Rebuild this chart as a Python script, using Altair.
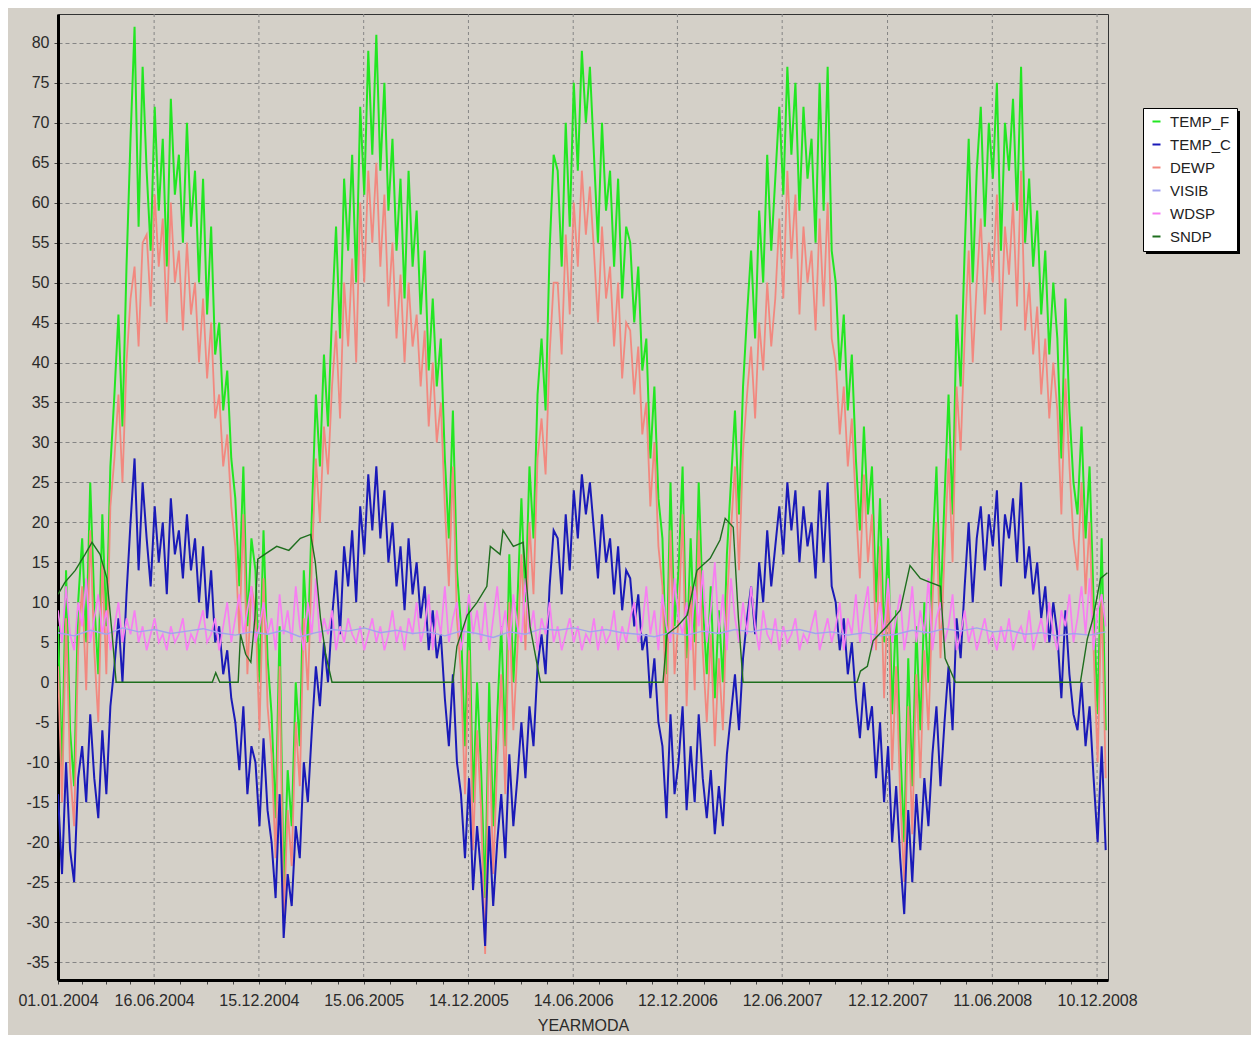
import altair as alt
import pandas as pd

# ---------------- data ----------------
series_names = ["TEMP_F", "TEMP_C", "DEWP", "VISIB", "WDSP", "SNDP"]
series_colors = ["#22e622", "#1a1ab8", "#f2887f", "#a3a3ee", "#f77ef2", "#1e6e1e"]
series_widths = [2.0, 2.0, 1.8, 1.4, 1.7, 1.4]
draw_order = ["TEMP_F", "DEWP", "TEMP_C", "WDSP", "VISIB", "SNDP"]

week_start = "2004-01-01"   # weekly samples
visib_start = "2004-01-01"  # 4-weekly samples

temp_c = [
    # 2004
    -14, -24, -10, -21, -25, -12, -8, -15, -4, -12, -17, -6, -14, -3, 2, 8, 0, 11,
    20, 28, 14, 25, 18, 12, 22, 15, 20, 11, 23, 16, 19, 13, 21, 14, 18, 10, 17, 8,
    14, 5, 7, 1, 4, -2, -5, -11, -3, -14, -8, -10, -18, -7, -16,
    # 2005
    -20, -27, -14, -32, -24, -28, -18, -22, -10, -15, -6, 2, -3, 5, 0, 8, 14, 6, 17,
    12, 19, 10, 22, 16, 26, 19, 27, 18, 24, 15, 20, 12, 17, 9, 18, 11, 15, 8, 12, 4,
    9, 3, 6, -2, -8, 1, -10, -14, -22, -12, -26, -18,
    # 2006
    -24, -33, -18, -28, -20, -14, -22, -9, -18, -12, -5, -12, -3, -8, 2, 6, 1, 12,
    19, 18, 11, 21, 14, 24, 18, 26, 21, 25, 19, 13, 21, 15, 18, 11, 17, 9, 14, 13, 7,
    11, 4, 6, -2, 3, -5, -8, -17, -4, -14, -10, -3, -16,
    # 2007
    -8, -15, -4, -12, -17, -11, -19, -13, -18, -9, -4, 1, -6, 3, 8, 12, 6, 15, 10,
    19, 12, 17, 22, 16, 25, 19, 24, 15, 22, 17, 20, 13, 24, 15, 25, 12, 10, 4, 8, 1,
    5, -2, -7, 0, -6, -3, -12, -5, -15, -8, -20, -13,
    # 2008
    -22, -29, -16, -25, -14, -21, -12, -18, -9, -3, -13, -5, 2, -6, 8, 3, 12, 20, 10,
    18, 22, 14, 21, 17, 24, 12, 21, 18, 23, 15, 25, 13, 17, 11, 15, 8, 12, 5, 10, 6,
    -2, 9, 1, -4, -6, 0, -8, -3, -12, -20, -8, -21,
]

temp_f = [
    # 2004
    7, -11, 14, -6, -13, 10, 18, 5, 25, 10, 1, 21, 7, 27, 36, 46, 32, 52, 68, 82, 57,
    77, 64, 54, 72, 59, 68, 52, 73, 61, 66, 55, 70, 57, 64, 50, 63, 46, 57, 41, 45,
    34, 39, 28, 23, 12, 27, 7, 18, 14, 0, 19, 3,
    # 2005
    -4, -17, 7, -26, -11, -18, 0, -8, 14, 5, 21, 36, 27, 41, 32, 46, 57, 43, 63, 54,
    66, 50, 72, 61, 79, 66, 81, 64, 75, 59, 68, 54, 63, 48, 64, 52, 59, 46, 54, 39,
    48, 37, 43, 28, 18, 34, 14, 7, -8, 10, -15, 0,
    # 2006
    -11, -27, 0, -18, -4, 7, -8, 16, 0, 10, 23, 10, 27, 18, 36, 43, 34, 54, 66, 64,
    52, 70, 57, 75, 64, 79, 70, 77, 66, 55, 70, 59, 64, 52, 63, 48, 57, 55, 45, 52,
    39, 43, 28, 37, 23, 18, 1, 25, 7, 14, 27, 3,
    # 2007
    18, 5, 25, 10, 1, 12, -2, 9, 0, 16, 25, 34, 21, 37, 46, 54, 43, 59, 50, 66, 54,
    63, 72, 61, 77, 66, 75, 59, 72, 63, 68, 55, 75, 59, 77, 54, 50, 39, 46, 34, 41,
    28, 19, 32, 21, 27, 10, 23, 5, 18, -4, 9,
    # 2008
    -8, -20, 3, -13, 7, -6, 10, 0, 16, 27, 9, 23, 36, 21, 46, 37, 54, 68, 50, 64, 72,
    57, 70, 63, 75, 54, 70, 64, 73, 59, 77, 55, 63, 52, 59, 46, 54, 41, 50, 43, 28,
    48, 34, 25, 21, 32, 18, 27, 10, -4, 18, -6,
]

dewp = [
    # 2004
    2, -15, 8, -11, -18, 4, 12, -1, 19, 4, -5, 15, 1, 22, 28, 36, 25, 40, 48, 52, 42,
    55, 56, 47, 61, 52, 58, 45, 60, 50, 54, 44, 55, 46, 50, 40, 48, 38, 45, 33, 36,
    27, 31, 22, 17, 6, 21, 1, 12, 9, -6, 13, -3,
    # 2005
    -9, -22, 2, -30, -16, -23, -5, -13, 8, -1, 15, 28, 20, 32, 26, 37, 44, 33, 50, 42,
    53, 40, 60, 50, 64, 55, 65, 52, 61, 47, 55, 43, 51, 40, 50, 42, 46, 37, 44, 32,
    40, 30, 35, 22, 12, 27, 8, 1, -14, 4, -21, -6,
    # 2006
    -16, -34, -5, -24, -10, 1, -14, 10, -6, 4, 16, 4, 20, 11, 28, 33, 26, 41, 50, 50,
    41, 56, 46, 60, 52, 64, 56, 62, 54, 45, 57, 48, 52, 42, 50, 38, 45, 44, 36, 42,
    31, 35, 22, 30, 17, 12, -5, 19, 1, 8, 21, -3,
    # 2007
    12, -1, 19, 4, -5, 6, -8, 3, -6, 10, 19, 27, 14, 29, 36, 42, 33, 45, 39, 50, 42,
    48, 58, 48, 64, 53, 61, 46, 57, 50, 54, 44, 58, 47, 60, 43, 40, 31, 37, 27, 33,
    22, 13, 26, 15, 21, 4, 17, -2, 12, -11, 2,
    # 2008
    -14, -25, -3, -19, 1, -12, 4, -6, 10, 20, 3, 16, 28, 15, 37, 29, 43, 54, 40, 50,
    58, 46, 55, 50, 61, 44, 57, 51, 60, 47, 64, 44, 50, 41, 47, 36, 43, 33, 40, 34,
    21, 38, 27, 18, 14, 25, 11, 20, 4, -10, 11, -12,
]

wdsp = [
    # 2004
    9, 5, 12, 6, 4, 10, 7, 13, 5, 8, 11, 6, 9, 4, 7, 10, 5, 8, 6, 9, 5, 7, 4, 6, 8, 5,
    6, 4, 7, 5, 6, 8, 4, 6, 5, 7, 9, 5, 6, 8, 4, 7, 10, 5, 8, 11, 6, 9, 12, 5, 7, 10, 6,
    # 2005
    8, 4, 11, 6, 9, 5, 12, 7, 4, 10, 6, 13, 5, 8, 6, 9, 4, 7, 5, 8, 6, 5, 7, 4, 6, 8,
    5, 7, 4, 6, 9, 5, 7, 4, 8, 6, 10, 5, 7, 11, 4, 9, 6, 12, 5, 8, 10, 4, 7, 11, 6, 9,
    # 2006
    5, 10, 4, 8, 12, 6, 9, 4, 11, 7, 5, 13, 6, 9, 4, 8, 6, 10, 5, 7, 4, 6, 8, 5, 7, 4,
    6, 5, 8, 4, 7, 5, 6, 9, 4, 7, 5, 8, 10, 5, 7, 12, 6, 9, 4, 11, 7, 5, 13, 8, 6, 10,
    # 2007
    4, 12, 7, 14, 5, 9, 15, 6, 11, 4, 13, 8, 5, 10, 6, 12, 7, 4, 9, 6, 5, 8, 4, 7, 5,
    6, 8, 4, 6, 5, 7, 9, 4, 6, 8, 5, 7, 10, 4, 8, 6, 11, 5, 9, 12, 4, 7, 10, 6, 13, 5, 8,
    # 2008
    11, 4, 7, 12, 5, 9, 6, 13, 4, 8, 10, 5, 7, 11, 4, 6, 9, 5, 7, 4, 6, 8, 5, 6, 4, 7,
    5, 8, 4, 6, 7, 5, 9, 4, 6, 8, 5, 10, 6, 4, 9, 7, 11, 5, 8, 12, 6, 13, 4, 9, 11, 7,
]

visib = [
    6.2, 5.8, 6.5, 6.0, 6.8, 6.3, 6.6, 6.1, 6.4, 6.7, 6.2, 5.9, 6.3,
    6.0, 6.5, 5.7, 6.2, 6.6, 6.4, 6.8, 6.2, 6.5, 6.1, 6.3, 5.8, 6.4,
    6.1, 5.6, 6.3, 6.0, 6.7, 6.5, 6.8, 6.3, 6.6, 6.2, 6.0, 5.7, 6.2,
    5.9, 6.4, 6.1, 6.6, 6.3, 6.7, 6.4, 6.6, 6.1, 6.3, 5.9, 6.2, 5.8,
    6.0, 6.5, 6.2, 6.7, 6.4, 6.8, 6.3, 6.5, 6.0, 6.2, 5.8, 6.1, 5.9, 6.3,
]

sndp_dates = [
    "2004-01-01", "2004-01-13", "2004-01-31", "2004-02-17", "2004-02-29", "2004-03-14",
    "2004-03-26", "2004-04-04", "2004-04-11", "2004-09-25", "2004-10-01", "2004-10-08",
    "2004-11-09", "2004-11-13", "2004-11-22", "2004-12-01", "2004-12-08", "2004-12-13",
    "2004-12-25", "2005-01-15", "2005-02-05", "2005-02-25", "2005-03-15", "2005-03-23",
    "2005-04-01", "2005-04-10", "2005-04-21", "2005-11-17", "2005-11-24", "2005-12-12",
    "2005-12-29", "2006-01-15", "2006-01-21", "2006-02-07", "2006-02-12", "2006-03-02",
    "2006-03-19", "2006-03-31", "2006-04-18", "2006-11-17", "2006-11-24", "2006-12-12",
    "2006-12-29", "2007-01-15", "2007-02-07", "2007-02-24", "2007-03-05", "2007-03-19",
    "2007-03-28", "2007-04-05", "2007-10-20", "2007-10-26", "2007-11-07", "2007-11-17",
    "2007-12-11", "2008-01-03", "2008-01-20", "2008-02-07", "2008-02-24", "2008-03-13",
    "2008-03-21", "2008-04-08", "2008-11-11", "2008-11-23", "2008-12-03", "2008-12-16",
    "2008-12-28",
]
sndp_values = [
    11, 12.5, 14, 16, 17.5, 16,
    13, 6, 0, 0, 1.2, 0,
    0, 6, 3.5, 2.5, 8, 15.4,
    16, 17, 16.5, 18, 18.5, 15,
    8, 3.5, 0, 0, 4.5, 8.4,
    10, 12, 17, 16, 19, 17,
    17.5, 7, 0, 0, 6, 7,
    8.4, 14, 15.5, 17.8, 20.5, 19.4,
    8, 0, 0, 1.4, 2, 5.2,
    7, 9, 14.6, 13, 12.5, 12,
    3, 0, 0, 5.4, 8, 13,
    13.7,
]

major_tick_dates = [
    "2004-01-01", "2004-06-16", "2004-12-15", "2005-06-15", "2005-12-14", "2006-06-14",
    "2006-12-12", "2007-06-12", "2007-12-12", "2008-06-11", "2008-12-10",
]
y_ticks = list(range(-35, 81, 5))
x_domain = ["2004-01-01", "2008-12-29"]
y_domain = [-37.25, 83.6]

assert len(temp_c) == len(temp_f) == len(dewp) == len(wdsp) == 261
assert len(sndp_dates) == len(sndp_values)

# ---------------- table ----------------
weeks = pd.date_range(week_start, periods=len(temp_c), freq="7D")
visib_days = pd.date_range(visib_start, periods=len(visib), freq="28D")
frames = [
    pd.DataFrame({"date": weeks, "series": "TEMP_F", "value": temp_f}),
    pd.DataFrame({"date": weeks, "series": "TEMP_C", "value": temp_c}),
    pd.DataFrame({"date": weeks, "series": "DEWP", "value": dewp}),
    pd.DataFrame({"date": visib_days, "series": "VISIB", "value": visib}),
    pd.DataFrame({"date": weeks, "series": "WDSP", "value": wdsp}),
    pd.DataFrame({"date": pd.to_datetime(sndp_dates), "series": "SNDP", "value": sndp_values}),
]
df = pd.concat(frames, ignore_index=True)

major_ts = pd.to_datetime(major_tick_dates)
major_labels = [t.strftime("%d.%m.%Y") for t in major_ts]
tick_ts = []
for a, b in zip(major_ts[:-1], major_ts[1:]):
    for k in range(4):
        tick_ts.append((a + (b - a) * k / 4).round("D"))
tick_ts.append(major_ts[-1])


def dt(t):
    return alt.DateTime(year=t.year, month=t.month, date=t.day)


tick_values = [dt(t) for t in tick_ts]
label_list = ", ".join("'%s'" % s for s in major_labels)
label_expr = (
    "indexof([%s], timeFormat(datum.value, '%%d.%%m.%%Y')) >= 0 ? "
    "timeFormat(datum.value, '%%d.%%m.%%Y') : ''" % label_list
)

FONT = "Liberation Sans"
TEXT = "#2a2a2a"
x_enc = alt.X(
    "date:T",
    title="YEARMODA",
    scale=alt.Scale(domain=[dt(pd.Timestamp(d)) for d in x_domain]),
    axis=alt.Axis(
        values=tick_values,
        labelExpr=label_expr,
        grid=False,
        tickSize=4,
        tickColor="#444444",
        domainColor="black",
        domainWidth=3,
        labelFont=FONT,
        labelFontSize=16,
        labelColor=TEXT,
        labelPadding=8,
        labelOverlap=False,
        labelFlush=False,
        titleFont=FONT,
        titleFontSize=16,
        titleFontWeight="normal",
        titleColor=TEXT,
        titlePadding=9,
    ),
)
y_enc = alt.Y(
    "value:Q",
    title=None,
    scale=alt.Scale(domain=y_domain, nice=False, zero=False),
    axis=alt.Axis(
        values=y_ticks,
        labelExpr="'' + datum.value",
        grid=True,
        gridColor="#858585",
        gridDash=[4, 3],
        gridWidth=1,
        tickSize=4,
        tickColor="#444444",
        domainColor="black",
        domainWidth=3,
        labelFont=FONT,
        labelFontSize=16,
        labelColor=TEXT,
        labelPadding=5,
        labelOverlap=False,
    ),
)

LEG_X, LEG_Y, LEG_W, LEG_H = 1085, 94, 94, 143
color_enc = alt.Color(
    "series:N",
    scale=alt.Scale(domain=series_names, range=series_colors),
    legend=alt.Legend(
        title=None,
        orient="none",
        legendX=LEG_X,
        legendY=LEG_Y,
        fillColor="white",
        strokeColor="black",
        padding=6,
        symbolType="stroke",
        symbolSize=64,
        symbolStrokeWidth=2,
        labelFont=FONT,
        labelFontSize=15,
        labelColor="#222222",
        labelOffset=6,
        rowPadding=7,
    ),
)

grid_df = pd.DataFrame({"date": major_ts[1:]})
grid_layer = alt.Chart(grid_df).mark_rule(
    color="#858585", strokeDash=[3, 3], strokeWidth=1
).encode(x=x_enc)

# drop shadow behind the legend box (decoration only)
shadow_layer = alt.Chart(pd.DataFrame({"k": [0]})).mark_rect(
    color="black", clip=False
).encode(
    x=alt.value(LEG_X + 3), x2=alt.value(LEG_X + LEG_W + 3),
    y=alt.value(LEG_Y + 3), y2=alt.value(LEG_Y + LEG_H + 3),
)

width_of = dict(zip(series_names, series_widths))
line_layers = [
    alt.Chart(df)
    .transform_filter(alt.datum.series == name)
    .mark_line(strokeWidth=width_of[name], clip=True)
    .encode(x=x_enc, y=y_enc, color=color_enc)
    for name in draw_order
]

chart = (
    alt.layer(grid_layer, *line_layers, shadow_layer)
    .properties(
        width=1050,
        height=966,
        padding={"left": 50, "top": 6, "right": 143, "bottom": 55},
        autosize=alt.AutoSizeParams(type="none"),
        background="#d4d0c8",
    )
    .configure_view(stroke="#333333", strokeWidth=1)
)

chart.save("out.html", embed_options={"renderer": "svg", "actions": False})
